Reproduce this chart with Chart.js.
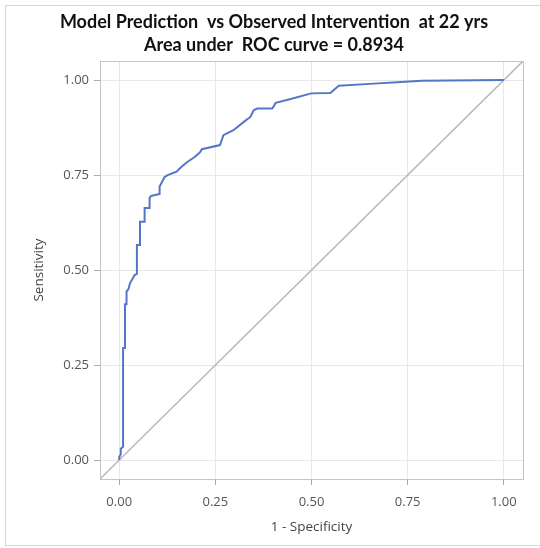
<!DOCTYPE html>
<html>
<head>
<meta charset="utf-8">
<title>ROC curve</title>
<script src="https://cdn.jsdelivr.net/npm/chart.js@4.4.1/dist/chart.umd.min.js"></script>
<style>
  html, body { margin: 0; padding: 0; background: #fff; }
  #wrap { width: 540px; height: 548px; }
</style>
</head>
<body>
<div id="wrap"><canvas id="roc" width="540" height="548"></canvas></div>
<script>
// ---------- DATA ----------
// ROC curve, listed as corner points of the step line
const fpr = [0, 0, 0.004, 0.004, 0.010, 0.010, 0.015, 0.015, 0.019, 0.019,
  0.024, 0.028, 0.040, 0.046, 0.046, 0.054, 0.054, 0.066, 0.066, 0.079,
  0.079, 0.083, 0.105, 0.105, 0.118, 0.126, 0.149, 0.162, 0.178, 0.197,
  0.210, 0.215, 0.262, 0.271, 0.297, 0.324, 0.341, 0.350, 0.359, 0.398,
  0.407, 0.446, 0.499, 0.549, 0.571, 0.651, 0.723, 0.786, 1.0];
const tpr = [0, 0.008, 0.015, 0.030, 0.035, 0.295, 0.295, 0.410, 0.410, 0.443,
  0.450, 0.465, 0.487, 0.490, 0.566, 0.566, 0.627, 0.627, 0.663, 0.663,
  0.690, 0.695, 0.700, 0.720, 0.745, 0.750, 0.759, 0.772, 0.785, 0.798,
  0.810, 0.818, 0.829, 0.855, 0.868, 0.890, 0.903, 0.921, 0.925, 0.925,
  0.940, 0.950, 0.965, 0.966, 0.985, 0.990, 0.994, 0.998, 1.0];

// chance line, corner to corner of the plot box
const chanceX = [-0.05, 1.05];
const chanceY = [-0.05, 1.05];

const xTicks = [0, 0.25, 0.5, 0.75, 1];
const yTicks = [0, 0.25, 0.5, 0.75, 1];

const titleLines = ["Model Prediction  vs Observed Intervention  at 22 yrs",
  "Area under  ROC curve = 0.8934"];

// ---------- STYLE ----------
const TICK_FONT = { family: "'Open Sans', sans-serif", size: 13 };
const AXIS_FONT = { family: "'Open Sans', sans-serif", size: 13.5 };
const GRID = "#e8e8e8";
const FRAME = "#c4c4c4";

const toPoints = (xs, ys) => xs.map((x, i) => ({ x: x, y: ys[i] }));

// frame around the plot + outer border
const framePlugin = {
  id: "frame",
  afterDraw(chart) {
    const { ctx, chartArea: a } = chart;
    ctx.save();
    ctx.strokeStyle = FRAME;
    ctx.lineWidth = 1;
    ctx.strokeRect(Math.round(a.left) + 0.5, Math.round(a.top) + 0.5,
      Math.round(a.right - a.left), Math.round(a.bottom - a.top));
    ctx.strokeStyle = "#d6d6d6";
    ctx.strokeRect(5.5, 5.5, 540, 540);
    ctx.restore();
  },
};

// ---------- CHART ----------
const ctx = document.getElementById("roc").getContext("2d");

new Chart(ctx, {
  type: "scatter",
  data: {
    datasets: [
      {
        label: "ROC",
        data: toPoints(fpr, tpr),
        showLine: true,
        borderColor: "#5476c6",
        borderWidth: 2,
        pointRadius: 0,
        tension: 0,
      },
      {
        label: "Chance",
        data: toPoints(chanceX, chanceY),
        showLine: true,
        borderColor: "#b9b9b9",
        borderWidth: 1.5,
        pointRadius: 0,
      },
    ],
  },
  options: {
    responsive: false,
    animation: false,
    devicePixelRatio: 1,
    layout: { padding: { left: 8, right: 0, top: 0, bottom: 2 } },
    plugins: {
      legend: { display: false },
      tooltip: { enabled: false },
      title: {
        display: true,
        text: titleLines,
        color: "#111",
        font: { family: "Lato, sans-serif", size: 18, weight: "bold", lineHeight: 1.28 },
        padding: { top: 11, bottom: 4 },
      },
    },
    scales: {
      x: {
        type: "linear",
        min: -0.05,
        max: 1.05,
        afterBuildTicks: (s) => { s.ticks = xTicks.map((v) => ({ value: v })); },
        afterFit: (s) => { s.height = 67; },
        ticks: {
          color: "#555",
          font: TICK_FONT,
          padding: 9,
          maxRotation: 0,
          callback: (v) => Number(v).toFixed(2),
        },
        grid: { color: GRID, tickColor: "#aaa", tickLength: 6 },
        border: { color: FRAME },
        title: {
          display: true,
          text: "1 - Specificity",
          color: "#444",
          font: AXIS_FONT,
          padding: { top: 0, bottom: 11 },
        },
      },
      y: {
        type: "linear",
        min: -0.05,
        max: 1.05,
        afterBuildTicks: (s) => { s.ticks = yTicks.map((v) => ({ value: v })); },
        afterFit: (s) => { s.width = 92; },
        ticks: {
          color: "#555",
          font: TICK_FONT,
          padding: 5,
          callback: (v) => Number(v).toFixed(2),
        },
        grid: { color: GRID, tickColor: "#aaa", tickLength: 6 },
        border: { color: FRAME },
        title: {
          display: true,
          text: "Sensitivity",
          color: "#444",
          font: AXIS_FONT,
          padding: { top: 23, bottom: 0 },
        },
      },
      // spacer on the right so the title centres over the whole figure
      yRight: {
        position: "right",
        display: true,
        ticks: { display: false },
        grid: { display: false, drawTicks: false },
        border: { display: false },
        afterFit: (s) => { s.width = 17; },
      },
    },
  },
  plugins: [framePlugin],
});
</script>
</body>
</html>
